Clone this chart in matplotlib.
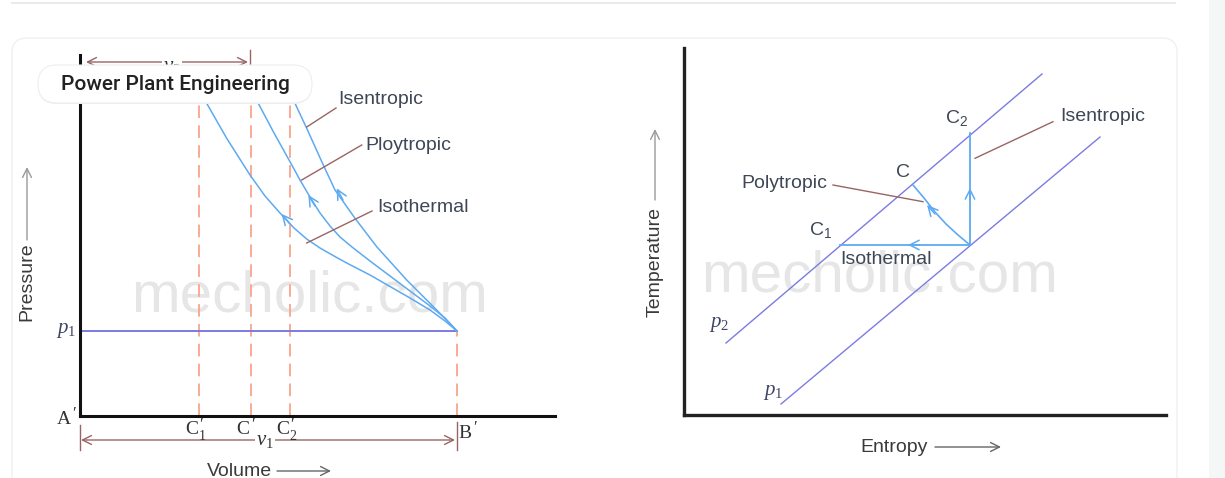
import matplotlib
matplotlib.use("Agg")
import matplotlib.pyplot as plt
from matplotlib.patches import FancyBboxPatch, Rectangle
from matplotlib.lines import Line2D

plt.rcParams["font.family"] = ["Liberation Sans", "DejaVu Sans"]
plt.rcParams["mathtext.fontset"] = "custom"
plt.rcParams["mathtext.rm"] = "Liberation Serif"
plt.rcParams["mathtext.it"] = "Liberation Serif:italic"
plt.rcParams["mathtext.sf"] = "Liberation Sans"

W, H = 1225, 478

# --- p-v diagram (volume / pressure, origin at A') ---
P1 = 85
V_B = 377
V_MARKS = [119, 170.5, 210]           # C1', C', C2'
V_MARK_SUBS = ["1", "", "2"]
V_TOP = 350

iso_v = [107, 126.7, 146.7, 170, 185, 200, 214, 226.7, 240, 254, 266.7, 290, 310, 330, 350, 365, 377]
iso_p = [348, 312.7, 277.7, 241, 220, 203, 188, 177, 168, 160, 153, 141, 129.5, 118, 106, 95, 85]
poly_v = [160, 178.3, 193.3, 210, 220, 230, 240, 250, 260, 272, 290, 310, 330, 350, 365, 377]
poly_p = [348, 312.7, 284.3, 254.3, 236, 219, 203, 190, 179, 169, 155, 140, 125, 110, 98, 85]
isen_v = [198.5, 215, 226.7, 243.3, 255, 275, 296.7, 326.7, 356.7, 377]
isen_p = [348, 312.7, 287.7, 251, 226, 197.7, 169.3, 136, 106, 85]

# --- T-s diagram (entropy / temperature) ---
p2_s, p2_T = [42, 358], [72, 341]
p1_s, p1_T = [97, 416], [11, 278]
isoT_s, isoT_T = [286, 156], [170, 170]
isenT_s, isenT_T = [286, 286], [170, 282]
polyT_s = [286, 274, 262, 251, 240, 229]
polyT_T = [170, 180, 191, 203, 217, 230]

BLUE = "#5eaaf0"
PLINE = "#7b7be2"
SALMON = "#f9a58c"
BROWN = "#9a6464"
TXT = "#3e4757"
SERIF = ["Liberation Serif", "DejaVu Serif"]
GRAY_ARROW = "#9a9a9a"


def rect(x0, y0, x1, y1):
    return [x0 / W, 1 - y1 / H, (x1 - x0) / W, (y1 - y0) / H]


def bare(ax, lw=2.2, color="#111111"):
    ax.patch.set_visible(False)
    for side in ("top", "right"):
        ax.spines[side].set_visible(False)
    for side in ("left", "bottom"):
        ax.spines[side].set_linewidth(lw)
        ax.spines[side].set_color(color)
    ax.set_xticks([])
    ax.set_yticks([])


def arrow(ax, tip, tail, color, lw=1.1, style="->", scale=14):
    ax.annotate("", xy=tip, xytext=tail, annotation_clip=False,
                arrowprops=dict(arrowstyle=style, color=color, lw=lw,
                                mutation_scale=scale, shrinkA=0, shrinkB=0))


def primed(ax, x, y, letter, sub=""):
    # letter with a prime above and an optional subscript below it
    kw = dict(color="#333333", family=SERIF, va="center")
    ax.text(x, y, letter, fontsize=14, ha="right", **kw)
    ax.text(x + 1.5, y + 5, "\u2032", fontsize=12, ha="left", **kw)
    if sub:
        ax.text(x + 0.5, y - 6, sub, fontsize=10, ha="left", **kw)


fig = plt.figure(figsize=(W / 100, H / 100), dpi=100)
fig.patch.set_facecolor("white")

# page chrome
fig.add_artist(Rectangle((1209 / 100, 0), 0.16, H / 100, transform=fig.dpi_scale_trans,
                         fc="#f5f6f6", ec="none", zorder=0))
fig.add_artist(Line2D([12 / 100, 1175 / 100], [(H - 3) / 100] * 2,
                      transform=fig.dpi_scale_trans, color="#e6e6e6", lw=1.2))
fig.add_artist(FancyBboxPatch((12 / 100, -0.3), 11.65, (H - 38) / 100 + 0.3,
                              boxstyle="round,pad=0,rounding_size=0.15",
                              transform=fig.dpi_scale_trans,
                              fc="none", ec="#f0f0f0", lw=1.0, zorder=0))

# ---------------- left: p-v ----------------
ax1 = fig.add_axes(rect(80, 55, 555, 416))
ax1.set_xlim(0, 475)
ax1.set_ylim(0, 361)
bare(ax1)

ax1.text(230, 119, "mecholic.com", fontsize=42, color="#e6e6e6",
         ha="center", va="center", zorder=0.5)

for v in V_MARKS:
    ax1.plot([v, v], [0, V_TOP], ls=(0, (7, 4)), color=SALMON, lw=1.3, zorder=1)
ax1.plot([V_B, V_B], [0, P1], ls=(0, (7, 4)), color=SALMON, lw=1.3, zorder=1)

ax1.plot([0, V_B], [P1, P1], color=PLINE, lw=1.4, zorder=2)
for vv, pp in [(iso_v, iso_p), (poly_v, poly_p), (isen_v, isen_p)]:
    ax1.plot(vv, pp, color=BLUE, lw=1.1, zorder=2)

arrow(ax1, (201.7, 202), (210, 192), BLUE, scale=17)
arrow(ax1, (228.3, 221), (235, 210), BLUE, scale=17)
arrow(ax1, (256.7, 227.7), (263, 216), BLUE, scale=17)

# leaders and labels
ax1.plot([226.7, 256], [289, 308], color=BROWN, lw=1)
ax1.plot([221.7, 281.7], [236, 271], color=BROWN, lw=1)
ax1.plot([226.7, 292], [173, 205], color=BROWN, lw=1)
ax1.text(258, 316.7, "Isentropic", fontsize=14, color=TXT, va="center", ha="left")
ax1.text(285, 271, "Ploytropic", fontsize=14, color=TXT, va="center", ha="left")
ax1.text(297, 209, "Isothermal", fontsize=14, color=TXT, va="center", ha="left")

# dimension lines
arrow(ax1, (375, -24), (1, -24), BROWN, lw=1.0, style="<->", scale=16)
ax1.plot([0, 0], [-9, -34], color=BROWN, lw=1, clip_on=False)
ax1.plot([V_B, V_B], [-6, -34], color=BROWN, lw=1, clip_on=False)
ax1.text(185, -24, "$v_1$", fontsize=15, color="#333333", ha="center", va="center",
         bbox=dict(fc="white", ec="none", pad=0.5))
arrow(ax1, (168, 354), (6, 354), BROWN, lw=1.0, style="<->", scale=16)
ax1.plot([170, 170], [346, 366], color=BROWN, lw=1, clip_on=False)
ax1.text(92, 349, "$v_2$", fontsize=15, color="#333333", ha="center", va="center",
         bbox=dict(fc="white", ec="none", pad=0.5))

for v, sub in zip(V_MARKS, V_MARK_SUBS):
    primed(ax1, v - 1, -14, "C", sub)
primed(ax1, -9, -3, "A")
primed(ax1, 392, -17, "B")
ax1.text(-4, P1, "$p_1$", fontsize=15, color="#3d4466", ha="right", va="center")

ax1.text(-53, 134, "Pressure", rotation=90, fontsize=14, color="#3a3a3a",
         ha="center", va="center")
arrow(ax1, (-53, 249), (-53, 176), GRAY_ARROW, lw=1.0, scale=16)
ax1.text(127, -55, "Volume", fontsize=14, color="#3a3a3a", ha="left", va="center")
arrow(ax1, (251, -55), (197, -55), "#666666", lw=1.0, scale=16)

# ---------------- right: T-s ----------------
ax2 = fig.add_axes(rect(684, 48, 1166, 415))
ax2.set_xlim(0, 482)
ax2.set_ylim(0, 367)
bare(ax2, lw=2.4, color="#222222")

ax2.text(196, 138, "mecholic.com", fontsize=42, color="#e6e6e6",
         ha="center", va="center", zorder=0.5)

ax2.plot(p2_s, p2_T, color=PLINE, lw=1.0, zorder=2)
ax2.plot(p1_s, p1_T, color=PLINE, lw=1.0, zorder=2)
ax2.plot(isoT_s, isoT_T, color=BLUE, lw=1.3, zorder=2)
ax2.plot(isenT_s, isenT_T, color=BLUE, lw=1.3, zorder=2)
ax2.plot(polyT_s, polyT_T, color=BLUE, lw=1.2, zorder=2)

arrow(ax2, (224, 170), (236, 170), BLUE, scale=17)
arrow(ax2, (286, 227), (286, 215), BLUE, scale=17)
arrow(ax2, (243, 210), (251, 201), BLUE, scale=17)

ax2.plot([291, 369], [256.7, 293.3], color=BROWN, lw=1)
ax2.plot([149, 239], [230, 213.3], color=BROWN, lw=1)

ax2.text(273, 297, r"$\mathsf{C_2}$", fontsize=14, color=TXT, ha="center", va="center")
ax2.text(219, 242, "C", fontsize=14, color=TXT, ha="center", va="center")
ax2.text(137, 185, r"$\mathsf{C_1}$", fontsize=14, color=TXT, ha="center", va="center")
ax2.text(156, 155, "Isothermal", fontsize=14, color=TXT, ha="left", va="center")
ax2.text(57.7, 231.7, "Polytropic", fontsize=14, color=TXT, ha="left", va="center")
ax2.text(376, 298.3, "Isentropic", fontsize=14, color=TXT, ha="left", va="center")
ax2.text(35, 90, "$p_2$", fontsize=15, color="#3d4466", ha="center", va="center")
ax2.text(88.6, 23, "$p_1$", fontsize=15, color="#3d4466", ha="center", va="center")

ax2.text(-29, 152.5, "Temperature", rotation=90, fontsize=14, color="#3a3a3a",
         ha="center", va="center")
arrow(ax2, (-29, 286), (-29, 215), GRAY_ARROW, lw=1.0, scale=16)
ax2.text(176, -32, "Entropy", fontsize=14, color="#3a3a3a", ha="left", va="center")
arrow(ax2, (317, -32), (251, -32), "#666666", lw=1.0, scale=16)

# floating label chip
fig.add_artist(FancyBboxPatch((38 / 100, (H - 104) / 100), 2.74, 0.38,
                              boxstyle="round,pad=0,rounding_size=0.19",
                              transform=fig.dpi_scale_trans,
                              fc="#ededed", ec="none", zorder=5))
fig.add_artist(FancyBboxPatch((38 / 100, (H - 103) / 100), 2.74, 0.38,
                              boxstyle="round,pad=0,rounding_size=0.19",
                              transform=fig.dpi_scale_trans,
                              fc="white", ec="#eeeeee", lw=0.8, zorder=6))
fig.text(175 / W, 1 - 84 / H, "Power Plant Engineering", fontsize=15,
         family="Roboto", weight="medium", color="#222222",
         ha="center", va="center", zorder=7)

fig.savefig("out.png", dpi=100)
